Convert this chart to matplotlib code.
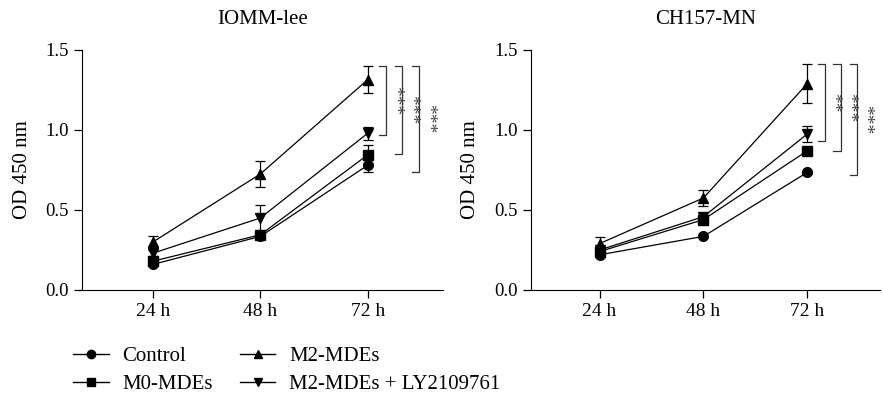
import numpy as np
import matplotlib.pyplot as plt
from matplotlib.lines import Line2D

plt.rcParams['font.family'] = ['Liberation Serif', 'DejaVu Serif']
plt.rcParams['font.size'] = 13

times = ['24 h', '48 h', '72 h']
labels = ['Control', 'M0-MDEs', 'M2-MDEs', 'M2-MDEs + LY2109761']
markers = ['o', 's', '^', 'v']

# IOMM-lee
iomm_vals = [
    [0.16, 0.335, 0.78],
    [0.18, 0.345, 0.845],
    [0.30, 0.725, 1.315],
    [0.23, 0.45, 0.98],
]
iomm_err = [
    [0.0, 0.0, 0.04],
    [0.0, 0.01, 0.06],
    [0.04, 0.08, 0.085],
    [0.02, 0.08, 0.04],
]
# CH157-MN
ch_vals = [
    [0.22, 0.335, 0.735],
    [0.24, 0.44, 0.87],
    [0.29, 0.575, 1.29],
    [0.25, 0.458, 0.975],
]
ch_err = [
    [0.0, 0.0, 0.01],
    [0.0, 0.02, 0.02],
    [0.04, 0.05, 0.12],
    [0.0, 0.0, 0.05],
]

iomm_sig = [(1.40, 0.97, '***'), (1.40, 0.85, '***'), (1.40, 0.74, '***')]
ch_sig = [(1.415, 0.93, '**'), (1.415, 0.87, '***'), (1.415, 0.72, '***')]
sig_x = [2.17, 2.32, 2.48]

fig = plt.figure(figsize=(8.83, 3.98), dpi=100)
ax1 = fig.add_axes([0.0929, 0.2714, 0.4088, 0.603])
ax2 = fig.add_axes([0.6014, 0.2714, 0.3952, 0.603])

def draw(ax, vals, errs, sig, title, ylab_x):
    x = np.arange(len(times))
    for v, e, m, lab in zip(vals, errs, markers, labels):
        ax.errorbar(x, v, yerr=e, color='black', marker=m, markersize=7,
                    linewidth=0.9, elinewidth=0.9, capsize=3.5, capthick=0.9,
                    label=lab)
    for (top, bot, txt), sx in zip(sig, sig_x):
        ax.plot([sx - 0.07, sx, sx, sx - 0.07], [top, top, bot, bot],
                color='#333333', linewidth=0.9, clip_on=False)
        ax.text(sx + 0.075, (top + bot) / 2, txt, rotation=270, ha='center',
                va='center', color='#444444', fontsize=14)
    ax.set_xlim(-0.66, 2.70)
    ax.set_ylim(0, 1.5)
    ax.set_xticks(x)
    ax.set_xticklabels(times, fontsize=14)
    ax.set_yticks([0, 0.5, 1.0, 1.5])
    ax.set_yticklabels(['0.0', '0.5', '1.0', '1.5'], fontsize=13.5)
    ax.spines['top'].set_visible(False)
    ax.spines['right'].set_visible(False)
    ax.tick_params(direction='out', length=6, width=0.9)
    ax.set_ylabel('OD 450 nm', fontsize=15)
    ax.yaxis.set_label_coords(ylab_x, 0.5)
    ax.set_title(title, fontsize=15, pad=19)

draw(ax1, iomm_vals, iomm_err, iomm_sig, 'IOMM-lee', -0.139)
draw(ax2, ch_vals, ch_err, ch_sig, 'CH157-MN', -0.146)

handles = [Line2D([], [], color='black', marker=m, markersize=6, linewidth=1)
           for m in markers]
fig.legend(handles, labels, ncol=2, loc='upper left',
           bbox_to_anchor=(0.071, 0.155), frameon=False, borderpad=0,
           handlelength=1.7, handletextpad=0.67, columnspacing=1.3,
           labelspacing=0.4, fontsize=15)

plt.savefig('out.png', dpi=100)
